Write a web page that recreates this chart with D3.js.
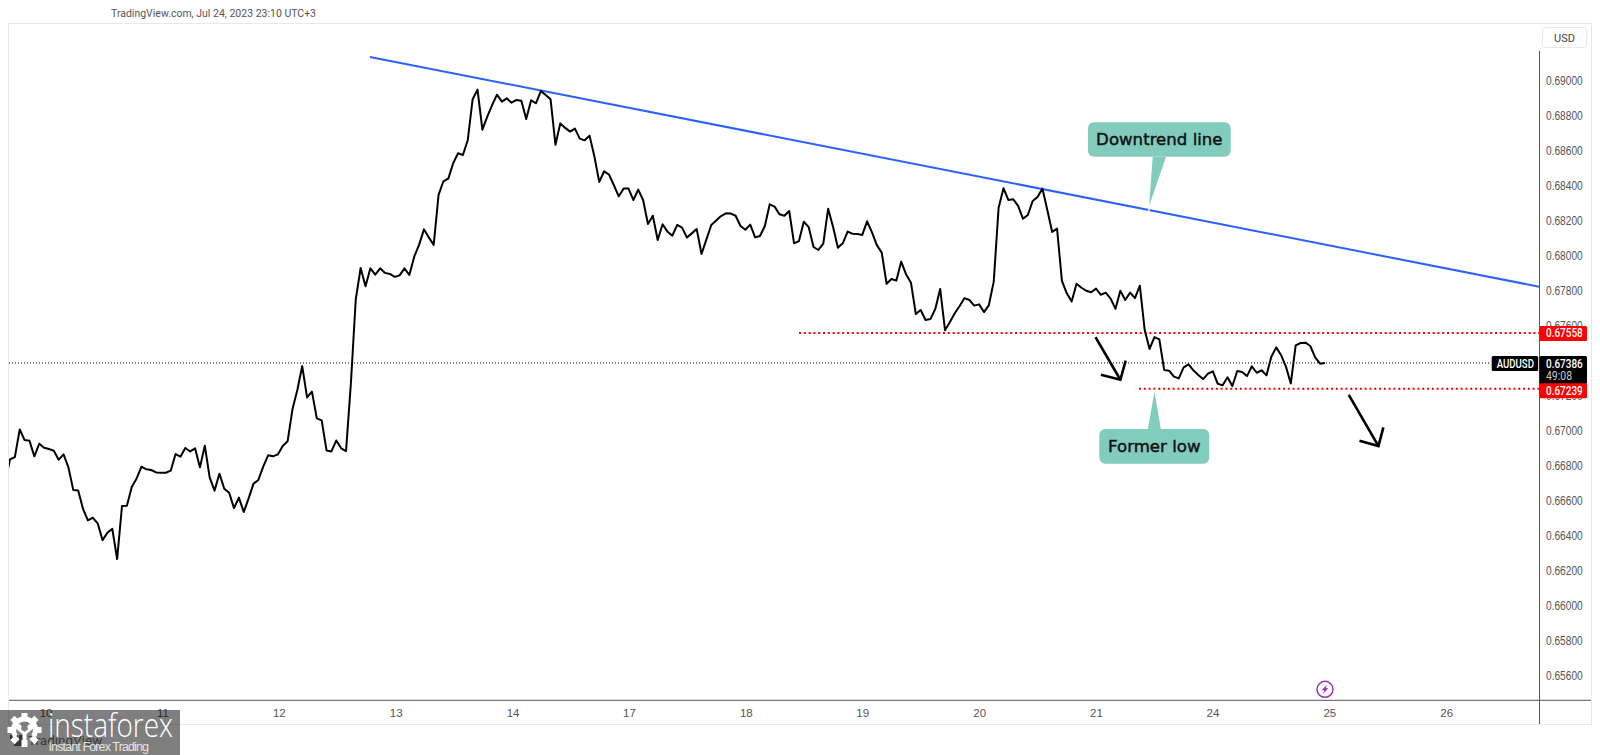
<!DOCTYPE html>
<html><head><meta charset="utf-8">
<script src="https://cdn.jsdelivr.net/npm/d3@7/dist/d3.min.js"></script>
<style>html,body{margin:0;padding:0;background:#fff;overflow:hidden}svg{display:block}</style>
</head><body><div id="c"></div>
<script>
// hourly AUDUSD closes
const closes = [
.66697,.66835,.66848,.67006,.66945,.66941,.66852,.66924,.66901,.66894,.66884,.66833,.66863,.66789,.66659,.66657,.66551,.66486,.66501,.66469,.66373,.66415,.66438,.66265,
.66568,.66570,.66677,.66726,.66793,.66778,.66774,.66760,.66758,.66758,.66770,.66865,.66850,.66900,.66880,.66898,.66789,.66913,.66732,.66656,.66753,.66667,.66644,.66556,
.66616,.66534,.66612,.66696,.66717,.66793,.66858,.66852,.66863,.66911,.66938,.67121,.67231,.67368,.67189,.67222,.67069,.67058,.66886,.66880,.66943,.66898,.66882,.67271,
.67750,.67929,.67824,.67927,.67891,.67927,.67901,.67895,.67878,.67887,.67927,.67889,.67994,.68061,.68150,.68104,.68061,.68347,.68425,.68440,.68528,.68585,.68575,.68661,
.68894,.68949,.68720,.68794,.68861,.68920,.68880,.68899,.68874,.68890,.68886,.68781,.68888,.68871,.68941,.68918,.68894,.68634,.68756,.68730,.68709,.68726,.68669,.68659,
.68686,.68566,.68421,.68482,.68463,.68402,.68339,.68383,.68383,.68318,.68377,.68318,.68181,.68228,.68089,.68179,.68137,.68114,.68175,.68160,.68103,.68127,.68152,.68009,
.68093,.68175,.68200,.68226,.68242,.68240,.68228,.68169,.68148,.68177,.68104,.68112,.68169,.68293,.68280,.68236,.68228,.68255,.68070,.68083,.68194,.68163,.68049,.68032,
.68068,.68268,.68165,.68045,.68070,.68137,.68125,.68123,.68118,.68196,.68133,.68060,.68017,.67839,.67866,.67857,.67965,.67893,.67845,.67666,.67689,.67632,.67637,.67695,
.67809,.67573,.67620,.67670,.67712,.67757,.67746,.67714,.67721,.67677,.67717,.67851,.68274,.68385,.68318,.68322,.68284,.68211,.68232,.68312,.68335,.68383,.68261,.68135,
.68154,.67855,.67784,.67738,.67839,.67816,.67799,.67790,.67811,.67776,.67788,.67754,.67696,.67799,.67746,.67788,.67757,.67828,.67574,.67466,.67534,.67521,.67346,.67342,
.67308,.67298,.67361,.67378,.67344,.67317,.67294,.67325,.67338,.67267,.67258,.67304,.67254,.67340,.67334,.67311,.67367,.67330,.67344,.67315,.67422,.67475,.67431,.67365,
.67269,.67487,.67500,.67502,.67483,.67418,.67382,.67386];
const dayLabels = ["10","11","12","13","14","17","18","19","20","21","24","25","26"];
const dayTickHours = [8.3,32.3,56.2,80.2,104.2,128.1,152.1,176.0,200.0,224.0,247.9,271.9,295.9];
const priceTicks = [.656,.658,.660,.662,.664,.666,.668,.670,.672,.674,.676,.678,.680,.682,.684,.686,.688,.690];
const lastPrice = .67386, resistance = .67558, support = .67239;
const trendHours = [74.9,315], trendPrices = [.69136,.67822];
const arrowOneHours = [223.9,229.0], arrowOnePrices = [.67534,.67290];
const arrowOneHeadHours = [225.0,229.0,230.1], arrowOneHeadPrices = [.67319,.67290,.67399];
const arrowTwoHours = [275.9,282.0], arrowTwoPrices = [.67204,.66911];
const arrowTwoHeadHours = [278.1,282.0,283.0], arrowTwoHeadPrices = [.66941,.66911,.67018];

const W=1600,H=755, L=9,R=1539.5,T=24,B=700.3;
const FONT='Roboto,"Open Sans",sans-serif';
const x=d3.scaleLinear().domain([0,300]).range([5.13,5.13+4.87*300]);
const y=d3.scaleLinear().domain([.69,.656]).range([80.7,675.3]);
const svg=d3.select('#c').append('svg').attr('width',W).attr('height',H).style('font-family',FONT);
svg.append('defs').append('clipPath').attr('id','plot').append('rect').attr('x',L).attr('y',T).attr('width',R-L).attr('height',B-T);

// frame
svg.append('rect').attr('x',8.5).attr('y',23.5).attr('width',1583).attr('height',701).attr('fill','#fff').attr('stroke','#e6e8ee');

// axes
const priceFmt=d3.format('.5f');
const yAxis=d3.axisRight(y).tickValues(priceTicks).tickSize(0).tickPadding(8).tickFormat(priceFmt);
const gy=svg.append('g').attr('transform',`translate(${R},0)`).call(yAxis);
gy.select('.domain').remove();
gy.selectAll('text').attr('font-size',12).attr('fill','#555').attr('x',6.5).attr('textLength',36.7).attr('lengthAdjust','spacingAndGlyphs');
const labelFor=new Map(dayTickHours.map((h,i)=>[h,dayLabels[i]]));
const xAxis=d3.axisBottom(x).tickValues(dayTickHours).tickSize(0).tickPadding(6).tickFormat(h=>labelFor.get(h));
const gx=svg.append('g').attr('transform',`translate(0,${B})`).call(xAxis);
gx.select('.domain').remove();
gx.selectAll('text').attr('font-size',11.5).attr('fill','#555').attr('dy','0.9em');
svg.append('line').attr('x1',9).attr('x2',1591).attr('y1',B).attr('y2',B).attr('stroke','#555').attr('stroke-width',1);
svg.append('line').attr('x1',R).attr('x2',R).attr('y1',51).attr('y2',724).attr('stroke','#555').attr('stroke-width',1);

// USD box
svg.append('rect').attr('x',1542.5).attr('y',27.5).attr('width',44).attr('height',20).attr('rx',3).attr('fill','#fff').attr('stroke','#e6e8ee');
svg.append('text').attr('x',1564.5).attr('y',42).attr('text-anchor','middle').attr('font-size',11).attr('fill','#444').text('USD');

const plot=svg.append('g').attr('clip-path','url(#plot)');
// last price line
plot.append('line').attr('x1',L).attr('x2',1491).attr('y1',y(lastPrice)).attr('y2',y(lastPrice)).attr('stroke','#000').attr('stroke-width',1).attr('stroke-dasharray','1,2');
// levels
plot.append('line').attr('x1',799).attr('x2',R).attr('y1',y(resistance)).attr('y2',y(resistance)).attr('stroke','#ff0000').attr('stroke-width',2).attr('stroke-dasharray','2,2.8');
plot.append('line').attr('x1',1139).attr('x2',R).attr('y1',y(support)).attr('y2',y(support)).attr('stroke','#ff0000').attr('stroke-width',2).attr('stroke-dasharray','2,2.8');
// trend line
const line2=d3.line().x(d=>x(d[0])).y(d=>y(d[1]));
plot.append('path').attr('d',line2(d3.zip(trendHours,trendPrices))).attr('fill','none').attr('stroke','#2962ff').attr('stroke-width',2);
// price
const priceLine=d3.line().x((d,i)=>x(i)).y(d=>y(d));
plot.append('path').datum(closes).attr('d',priceLine).attr('fill','none').attr('stroke','#000').attr('stroke-width',2).attr('stroke-linejoin','round');
// arrows
[[arrowOneHours,arrowOnePrices,arrowOneHeadHours,arrowOneHeadPrices],[arrowTwoHours,arrowTwoPrices,arrowTwoHeadHours,arrowTwoHeadPrices]].forEach(a=>{
  plot.append('path').attr('d',line2(d3.zip(a[0],a[1]))).attr('fill','none').attr('stroke','#000').attr('stroke-width',2.6);
  plot.append('path').attr('d',line2(d3.zip(a[2],a[3]))).attr('fill','none').attr('stroke','#000').attr('stroke-width',2.6);
});

// callouts
const TEAL='#82ccbd';
function callout(bx,by,bw,bh,base0,base1,tipHour,tipPrice,label,tx,baseY){
  svg.append('rect').attr('x',bx).attr('y',by).attr('width',bw).attr('height',bh).attr('rx',6).attr('fill',TEAL);
  svg.append('path').attr('d',`M${base0},${baseY}L${x(tipHour)},${y(tipPrice)}L${base1},${baseY}Z`).attr('fill',TEAL);
  svg.append('text').attr('x',bx+bw/2).attr('y',tx).attr('text-anchor','middle').attr('font-family','"DejaVu Sans"').attr('font-size',16.6).attr('fill','#111').attr('stroke','#111').attr('stroke-width',.45).text(label);
}
callout(1088,122.3,142.7,34.4,1152.7,1166,234.9,.68283,'Downtrend line',145,157);
callout(1099.3,429,110,34.7,1147.7,1161,236.0,.67221,'Former low',452,430);
svg.append('circle').attr('cx',1149).attr('cy',210).attr('r',1).attr('fill','#fff');

// price pills
function pill(px,py,pw,ph,fill){svg.append('rect').attr('x',px).attr('y',py).attr('width',pw).attr('height',ph).attr('rx',1.5).attr('fill',fill);}
function pillText(tx,ty,fill,t,len){svg.append('text').attr('x',tx).attr('y',ty).attr('font-size',12.5).attr('font-weight',500).attr('fill',fill).attr('textLength',len).attr('lengthAdjust','spacingAndGlyphs').text(t);}
pill(1539.5,y(resistance)-7,47.5,15,'#ff0000');
pillText(1546,y(resistance)+4.6,'#fff',priceFmt(resistance),36.7);
pill(1491.7,356,46.5,15,'#000');
pillText(1496.7,367.8,'#fff','AUDUSD',37.3);
pill(1539.5,356,47.5,28,'#000');
pillText(1546,367.8,'#fff',priceFmt(lastPrice),36.7);
svg.append('text').attr('x',1546).attr('y',380).attr('font-size',12).attr('fill','#c8c8c8').attr('textLength',26).attr('lengthAdjust','spacingAndGlyphs').text('49:08');
pill(1539.5,y(support)-5.5,47.5,15,'#ff0000');
pillText(1546,y(support)+6.2,'#fff',priceFmt(support),36.7);

// lightning badge
const badge=svg.append('g').attr('transform','translate(1325,689.3)');
badge.append('circle').attr('r',8).attr('fill','#fff').attr('stroke','#9c27b0').attr('stroke-width',1.4);
badge.append('path').attr('d','M2.2,-4.6L-3.4,1L-0.6,1L-2.2,4.6L3.4,-1L0.6,-1Z').attr('fill','#9c27b0');

// header
svg.append('text').attr('x',111).attr('y',16.5).attr('font-size',11).attr('fill','#555').attr('textLength',205).attr('lengthAdjust','spacingAndGlyphs').text('TradingView.com, Jul 24, 2023 23:10 UTC+3');

// faded TradingView mark and watermark
svg.append('path').attr('d','M10,735h8v11h-4v-7h-4ZM19,735h7l-4,11h-4Z').attr('fill','#666');
svg.append('text').attr('x',28).attr('y',745).attr('font-size',13.5).attr('fill','#777').text('TradingView');
svg.append('rect').attr('x',0).attr('y',710).attr('width',180).attr('height',45).attr('fill','#000').attr('opacity',.5);
const gear=svg.append('g').attr('transform','translate(24.5,730)').attr('fill','#fff');
d3.range(8).forEach(i=>gear.append('rect').attr('x',-3).attr('y',-17).attr('width',6).attr('height',7).attr('transform',`rotate(${i*45})`));
gear.append('path').attr('d',d3.arc()({innerRadius:8.5,outerRadius:13.5,startAngle:-2.2,endAngle:2.2})).attr('fill','#fff');
gear.append('circle').attr('cx',-6).attr('cy',-3).attr('r',3);
gear.append('circle').attr('cx',6).attr('cy',-3).attr('r',3);
gear.append('path').attr('d','M-7,0L-2,4V17H2V4L7,0L5,-2L0,2L-5,-2Z');
svg.append('text').attr('x',48).attr('y',737).attr('font-family','"Open Sans"').attr('font-weight',300).attr('font-size',33).attr('textLength',125).attr('lengthAdjust','spacingAndGlyphs').attr('fill','#fff').text('instaforex');
svg.append('text').attr('x',48.5).attr('y',750.5).attr('font-family','"Liberation Sans"').attr('font-size',12.5).attr('textLength',100.5).attr('lengthAdjust','spacing').attr('fill','#e4e4e4').text('Instant Forex Trading');
</script></body></html>
